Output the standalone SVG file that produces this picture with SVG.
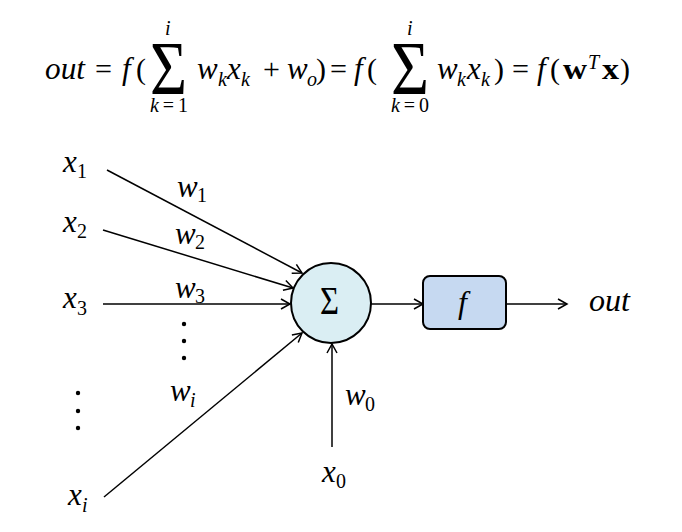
<svg xmlns="http://www.w3.org/2000/svg" width="682" height="532" viewBox="0 0 682 532">
<style>
text { font-family: "Liberation Serif", "DejaVu Serif", serif; fill: #000; }
.it { font-style: italic; font-size: 31px; }
.up { font-size: 30px; }
.sub { font-size: 20px; }
.subi { font-size: 20px; font-style: italic; }
.lim { font-size: 20px; }
.bold { font-weight: bold; font-size: 30px; }
.big { font-size: 76px; }
.edge { stroke: #000; stroke-width: 1.5; fill: none; marker-end: url(#arr); }
.dot { fill: #000; }
</style>
<defs>
<marker id="arr" markerUnits="userSpaceOnUse" markerWidth="14" markerHeight="14" viewBox="-12 -7 14 14" refX="0" refY="0" orient="auto">
<path d="M-9,-5 L0,0 L-9,5" fill="none" stroke="#000" stroke-width="1.5"/>
</marker>
</defs>
<rect width="682" height="532" fill="#fff"/>

<g id="formula">
<text class="it" x="45" y="79" textLength="40" lengthAdjust="spacingAndGlyphs">out</text>
<text class="up" x="95" y="79" textLength="17" lengthAdjust="spacingAndGlyphs">=</text>
<text class="it" x="122" y="79">f</text>
<text class="up" x="136" y="79">(</text>
<text class="big" x="150" y="94" textLength="37" lengthAdjust="spacingAndGlyphs">Σ</text>
<text class="lim" x="165" y="35" font-style="italic">i</text>
<text class="lim" x="150" y="112" textLength="38" lengthAdjust="spacing"><tspan font-style="italic">k</tspan>=1</text>
<text class="it" x="197" y="79">w</text>
<text class="subi" x="218" y="86">k</text>
<text class="it" x="227" y="79">x</text>
<text class="subi" x="241" y="86">k</text>
<text class="up" x="263" y="79">+</text>
<text class="it" x="287" y="79">w</text>
<text class="subi" x="307" y="86">o</text>
<text class="up" x="316" y="79">)</text>
<text class="up" x="330" y="79" textLength="17" lengthAdjust="spacingAndGlyphs">=</text>
<text class="it" x="354" y="79">f</text>
<text class="up" x="367" y="79">(</text>
<text class="big" x="391" y="94" textLength="38" lengthAdjust="spacingAndGlyphs">Σ</text>
<text class="lim" x="407" y="35" font-style="italic">i</text>
<text class="lim" x="391" y="112" textLength="38" lengthAdjust="spacing"><tspan font-style="italic">k</tspan>=0</text>
<text class="it" x="437" y="79">w</text>
<text class="subi" x="457" y="86">k</text>
<text class="it" x="467" y="79">x</text>
<text class="subi" x="481" y="86">k</text>
<text class="up" x="494" y="79">)</text>
<text class="up" x="512" y="79" textLength="17" lengthAdjust="spacingAndGlyphs">=</text>
<text class="it" x="537" y="79">f</text>
<text class="up" x="550" y="79">(</text>
<text class="bold" x="563" y="79" textLength="24" lengthAdjust="spacingAndGlyphs">w</text>
<text class="subi" x="588" y="69">T</text>
<text class="bold" x="602" y="79" textLength="17" lengthAdjust="spacingAndGlyphs">x</text>
<text class="up" x="620" y="79">)</text>
</g>

<g id="connectors">
<line class="edge" x1="107" y1="170" x2="302" y2="273"/>
<line class="edge" x1="103" y1="230" x2="293" y2="288"/>
<line class="edge" x1="103" y1="304" x2="290" y2="304"/>
<line class="edge" x1="104" y1="497" x2="302" y2="333"/>
<line class="edge" x1="332" y1="447" x2="332" y2="344"/>
<line class="edge" x1="371" y1="304" x2="423" y2="304"/>
<line class="edge" x1="506" y1="304" x2="567" y2="304"/>
</g>

<g id="weights">
<text class="it" x="177" y="197">w</text><text class="sub" x="197" y="202">1</text>
<text class="it" x="175" y="244">w</text><text class="sub" x="195" y="249">2</text>
<text class="it" x="175" y="298">w</text><text class="sub" x="195" y="303">3</text>
<text class="it" x="170" y="401">w</text><text class="subi" x="190" y="407">i</text>
<text class="it" x="345" y="405">w</text><text class="sub" x="365" y="411">0</text>
<circle class="dot" cx="184" cy="324" r="2.2"/>
<circle class="dot" cx="184" cy="341" r="2.2"/>
<circle class="dot" cx="184" cy="358" r="2.2"/>
</g>

<g id="x1"><text class="it" x="63" y="172">x</text><text class="sub" x="77" y="178">1</text></g>
<g id="x2"><text class="it" x="63" y="232">x</text><text class="sub" x="77" y="238">2</text></g>
<g id="x3"><text class="it" x="63" y="308">x</text><text class="sub" x="77" y="315">3</text></g>
<g id="xdots">
<circle class="dot" cx="78" cy="393" r="2.2"/>
<circle class="dot" cx="78" cy="411" r="2.2"/>
<circle class="dot" cx="78" cy="428" r="2.2"/>
</g>
<g id="xi"><text class="it" x="68" y="505">x</text><text class="subi" x="82" y="512">i</text></g>
<g id="x0"><text class="it" x="322" y="482">x</text><text class="sub" x="336" y="488">0</text></g>

<g id="sum">
<circle cx="331" cy="303" r="40" fill="#daeef3" stroke="#000" stroke-width="2"/>
<text class="up" x="320" y="314" style="font-size:40px" textLength="19" lengthAdjust="spacingAndGlyphs">Σ</text>
</g>

<g id="activation">
<rect x="423" y="276" width="83" height="53" rx="7" fill="#c6d9f1" stroke="#000" stroke-width="2"/>
<text class="it" x="458" y="313" style="font-size:32px">f</text>
</g>

<g id="out">
<text class="it" x="589" y="311" textLength="41" lengthAdjust="spacingAndGlyphs">out</text>
</g>
</svg>
